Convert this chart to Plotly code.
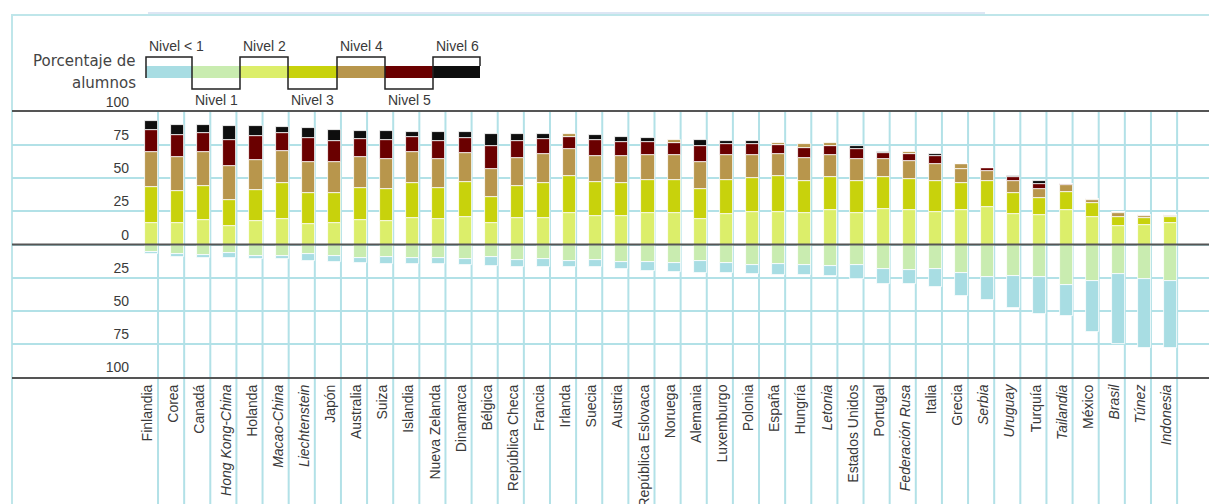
import plotly.graph_objects as go

# ---------------- data ----------------
countries = ["Finlandia", "Corea", "Canadá", "Hong Kong-China", "Holanda", "Macao-China",
             "Liechtenstein", "Japón", "Australia", "Suiza", "Islandia", "Nueva Zelanda",
             "Dinamarca", "Bélgica", "República Checa", "Francia", "Irlanda", "Suecia",
             "Austria", "República Eslovaca", "Noruega", "Alemania", "Luxemburgo", "Polonia",
             "España", "Hungría", "Letonia", "Estados Unidos", "Portugal", "Federación Rusa",
             "Italia", "Grecia", "Serbia", "Uruguay", "Turquía", "Tailandia", "México",
             "Brasil", "Túnez", "Indonesia"]
partners = ["Hong Kong-China", "Macao-China", "Liechtenstein", "Letonia", "Federación Rusa",
            "Serbia", "Uruguay", "Tailandia", "Brasil", "Túnez", "Indonesia"]

# percentages of students (below zero: Nivel < 1 and Nivel 1)
nivel_menor1 = [1.5, 2.5, 2.4, 3.9, 2.6, 2.5, 4.8, 4.7, 4.3, 4.9, 4.5, 4.9, 4.7, 7.2, 5.0, 5.6,
                4.7, 5.6, 5.6, 6.7, 6.9, 9.2, 7.4, 6.8, 8.1, 7.8, 7.6, 10.2, 11.3, 11.0, 13.2,
                17.8, 17.6, 24.7, 27.7, 23.8, 38.1, 53.3, 51.7, 50.5]
nivel1 = [5.3, 7.1, 7.7, 6.5, 8.4, 8.7, 7.5, 8.6, 10.0, 9.6, 10.5, 10.1, 10.7, 9.3, 11.6, 11.0,
          12.1, 11.7, 13.2, 13.2, 13.9, 12.4, 14.3, 15.2, 14.9, 15.2, 16.1, 15.5, 18.8, 19.0,
          18.7, 21.2, 24.5, 23.4, 24.6, 30.2, 27.9, 21.9, 26.3, 27.6]
nivel2 = [16.0, 16.6, 18.3, 13.9, 18.0, 18.9, 15.8, 16.3, 18.6, 17.5, 20.2, 19.2, 20.6, 15.9,
          20.1, 20.2, 23.6, 21.7, 21.6, 23.5, 23.7, 19.0, 22.9, 24.8, 24.7, 23.8, 26.0, 23.9,
          27.1, 25.9, 24.7, 26.3, 28.6, 22.9, 22.1, 26.1, 20.8, 14.2, 14.6, 16.0]
nivel3 = [27.7, 24.1, 26.2, 20.0, 23.0, 27.4, 22.8, 22.4, 24.0, 24.3, 26.1, 23.2, 26.2, 20.1,
          24.3, 25.9, 28.0, 25.5, 24.9, 24.9, 25.2, 22.6, 25.9, 25.3, 26.7, 24.3, 25.2, 23.8,
          24.0, 23.6, 22.9, 20.2, 19.0, 15.8, 12.9, 13.7, 10.7, 6.8, 5.6, 4.8]
nivel4 = [26.1, 25.0, 25.1, 25.0, 22.6, 24.1, 23.7, 23.6, 23.3, 22.5, 23.2, 21.9, 21.9, 21.0,
          20.8, 22.1, 20.2, 19.8, 20.5, 18.9, 18.9, 20.6, 18.7, 17.7, 16.7, 16.9, 16.0, 16.6,
          13.4, 13.6, 13.4, 10.6, 7.9, 9.0, 6.8, 4.8, 2.4, 2.7, 1.5, 1.0]
nivel5 = [16.7, 16.7, 14.8, 20.2, 18.2, 13.5, 17.9, 16.1, 14.0, 14.2, 11.7, 14.1, 11.8, 17.5,
          12.9, 11.6, 9.1, 11.6, 10.5, 9.8, 8.7, 12.2, 8.5, 7.8, 7.1, 8.2, 7.2, 8.0, 4.6, 5.2,
          5.5, 3.4, 2.1, 3.4, 3.5, 1.1, 0.4, 0.9, 0.3, 0.1]
nivel6 = [6.7, 8.1, 5.5, 10.5, 7.3, 4.8, 7.4, 8.2, 5.8, 7.0, 3.7, 6.6, 4.1, 9.0, 5.3, 3.5, 2.2,
          4.1, 3.7, 3.0, 2.7, 4.1, 2.4, 2.3, 1.6, 2.8, 1.9, 2.0, 0.8, 1.7, 1.5, 0.6, 0.3, 0.8,
          2.4, 0.2, 0.0, 0.2, 0.0, 0.0]

level_names = ["Nivel < 1", "Nivel 1", "Nivel 2", "Nivel 3", "Nivel 4", "Nivel 5", "Nivel 6"]
y_tick_vals = [-100, -75, -50, -25, 0, 25, 50, 75, 100]
y_tick_text = ["100", "75", "50", "25", "0", "25", "50", "75", "100"]

# segments that the original draws in the Nivel 4 tone
n6_tan = ["Irlanda", "Noruega", "España", "Hungría", "Letonia", "Federación Rusa", "Grecia",
          "México", "Brasil", "Túnez", "Indonesia"]
n5_tan = ["Grecia", "México", "Brasil", "Túnez", "Indonesia"]

# ---------------- style ----------------
COLORS = ["#a8dde3", "#c9ecb0", "#dcee6a", "#c8d20c", "#b8964c", "#6a0000", "#0e0e0e"]
GRID = "#b2e1e7"
DARK = "#555555"
TXT = "#3a3a3a"
SANS = "Liberation Sans, Arial, Helvetica, sans-serif"
WIDE = "DejaVu Sans, Open Sans, sans-serif"

# The page body has an 8 px margin: all layout pixel values below are given in
# screen pixels and shifted by OFF into figure pixels.
OFF = 8
W, H = 1217, 504
S_PL, S_PR, S_PT, S_PB = 12, 1217, 112, 377     # plot area, screen pixels
PL, PR, PT, PB = S_PL - OFF, S_PR - OFF, S_PT - OFF, S_PB - OFF
STEP = 26.13                                    # pixels per category
X0_PX = 151.5                                   # centre of first category (screen)
X_MIN = -(X0_PX - S_PL) / STEP
X_MAX = X_MIN + (S_PR - S_PL) / STEP
BAR_W = 0.5


def fx(sx):
    return (sx - S_PL) / (S_PR - S_PL)


def fy(sy):
    return (S_PB - sy) / (S_PB - S_PT)


def xdata_to_paper(v):
    return (v - X_MIN) / (X_MAX - X_MIN)


x = list(range(len(countries)))
ticktext = [f"<i>{c}</i>" if c in partners else c for c in countries]

fig = go.Figure()
series = [
    (nivel1, -1, [COLORS[1]] * len(countries)),
    (nivel_menor1, -1, [COLORS[0]] * len(countries)),
    (nivel2, 1, [COLORS[2]] * len(countries)),
    (nivel3, 1, [COLORS[3]] * len(countries)),
    (nivel4, 1, [COLORS[4]] * len(countries)),
    (nivel5, 1, [COLORS[4] if c in n5_tan else COLORS[5] for c in countries]),
    (nivel6, 1, [COLORS[4] if c in n6_tan else COLORS[6] for c in countries]),
]
names = [level_names[1], level_names[0]] + level_names[2:]
for (vals, sign, cols), nm in zip(series, names):
    fig.add_trace(go.Bar(
        x=x, y=[sign * v for v in vals], width=BAR_W, name=nm,
        marker=dict(color=cols, line=dict(color="white", width=0.8)),
        showlegend=False, hoverinfo="skip"))

shapes = []
# vertical grid lines at bar right edges, running down through the label area
for i in x:
    xp = xdata_to_paper(i + BAR_W / 2)
    shapes.append(dict(type="line", xref="paper", yref="paper", x0=xp, x1=xp,
                       y0=fy(506), y1=1, line=dict(color=GRID, width=2), layer="below"))
# zero line above the bars
shapes.append(dict(type="line", xref="paper", yref="y", x0=0, x1=1, y0=0, y1=0,
                   line=dict(color=DARK, width=2), layer="above"))
# outer frame decoration
shapes.append(dict(type="line", xref="paper", yref="paper", x0=fx(12), x1=fx(1217),
                   y0=fy(15), y1=fy(15), line=dict(color="#bfe6ea", width=2), layer="below"))
shapes.append(dict(type="rect", xref="paper", yref="paper", x0=fx(148), x1=fx(985),
                   y0=fy(14), y1=fy(12), line=dict(width=0), fillcolor="#dde6f4", layer="below"))
shapes.append(dict(type="line", xref="paper", yref="paper", x0=fx(12), x1=fx(12),
                   y0=fy(506), y1=fy(14), line=dict(color="#bfe6ea", width=2), layer="below"))

# legend swatches
edges = [146, 192, 240, 288, 337, 385, 433, 480]
for k in range(7):
    shapes.append(dict(type="rect", xref="paper", yref="paper", x0=fx(edges[k]), x1=fx(edges[k + 1]),
                       y0=fy(78), y1=fy(66), line=dict(width=0), fillcolor=COLORS[k]))
pts = [(146, 78), (146, 57)]
for k in range(7):
    top = 57 if k % 2 == 0 else 89
    pts.append((edges[k], top))
    pts.append((edges[k + 1], top))
pts.append((480, 66))
path = "M " + " L ".join(f"{fx(a):.5f},{fy(b):.5f}" for a, b in pts)
shapes.append(dict(type="path", xref="paper", yref="paper", path=path,
                   line=dict(color="#222222", width=1.5)))

annotations = []
for k in range(7):
    ypx = 46 if k % 2 == 0 else 100
    annotations.append(dict(xref="paper", yref="paper", x=fx(edges[k] + 1), y=fy(ypx),
                            xanchor="left", yanchor="middle", text=level_names[k], showarrow=False,
                            font=dict(family=SANS, size=14, color=TXT)))
annotations.append(dict(xref="paper", yref="paper", x=fx(138), y=fy(61), xanchor="right",
                        yanchor="middle", text="Porcentaje de", showarrow=False,
                        font=dict(family=WIDE, size=15, color="#444444")))
annotations.append(dict(xref="paper", yref="paper", x=fx(138), y=fy(83), xanchor="right",
                        yanchor="middle", text="alumnos", showarrow=False,
                        font=dict(family=WIDE, size=15, color="#444444")))

fig.update_layout(
    width=W, height=H, barmode="relative", bargap=0,
    margin=dict(l=PL, r=W - PR, t=PT, b=H - PB, pad=0, autoexpand=False),
    paper_bgcolor="white", plot_bgcolor="white",
    shapes=shapes, annotations=annotations, showlegend=False,
    xaxis=dict(range=[X_MIN, X_MAX], tickmode="array", tickvals=[i - 0.15 for i in x],
               ticktext=ticktext, tickangle=-90, showgrid=False, zeroline=False,
               showline=True, mirror=True, linecolor=DARK, linewidth=2, ticks="",
               automargin=False,
               tickfont=dict(family=SANS, size=14, color=TXT)),
    yaxis=dict(range=[-100, 100], tickmode="array", tickvals=y_tick_vals, ticktext=y_tick_text,
               anchor="free", position=fx(129), showline=False, zeroline=False,
               showgrid=True, gridcolor=GRID, gridwidth=2, ticks="", automargin=False,
               ticklabelposition="outside top",
               tickfont=dict(family=SANS, size=14, color=TXT)),
)

fig.write_html("out.html")
